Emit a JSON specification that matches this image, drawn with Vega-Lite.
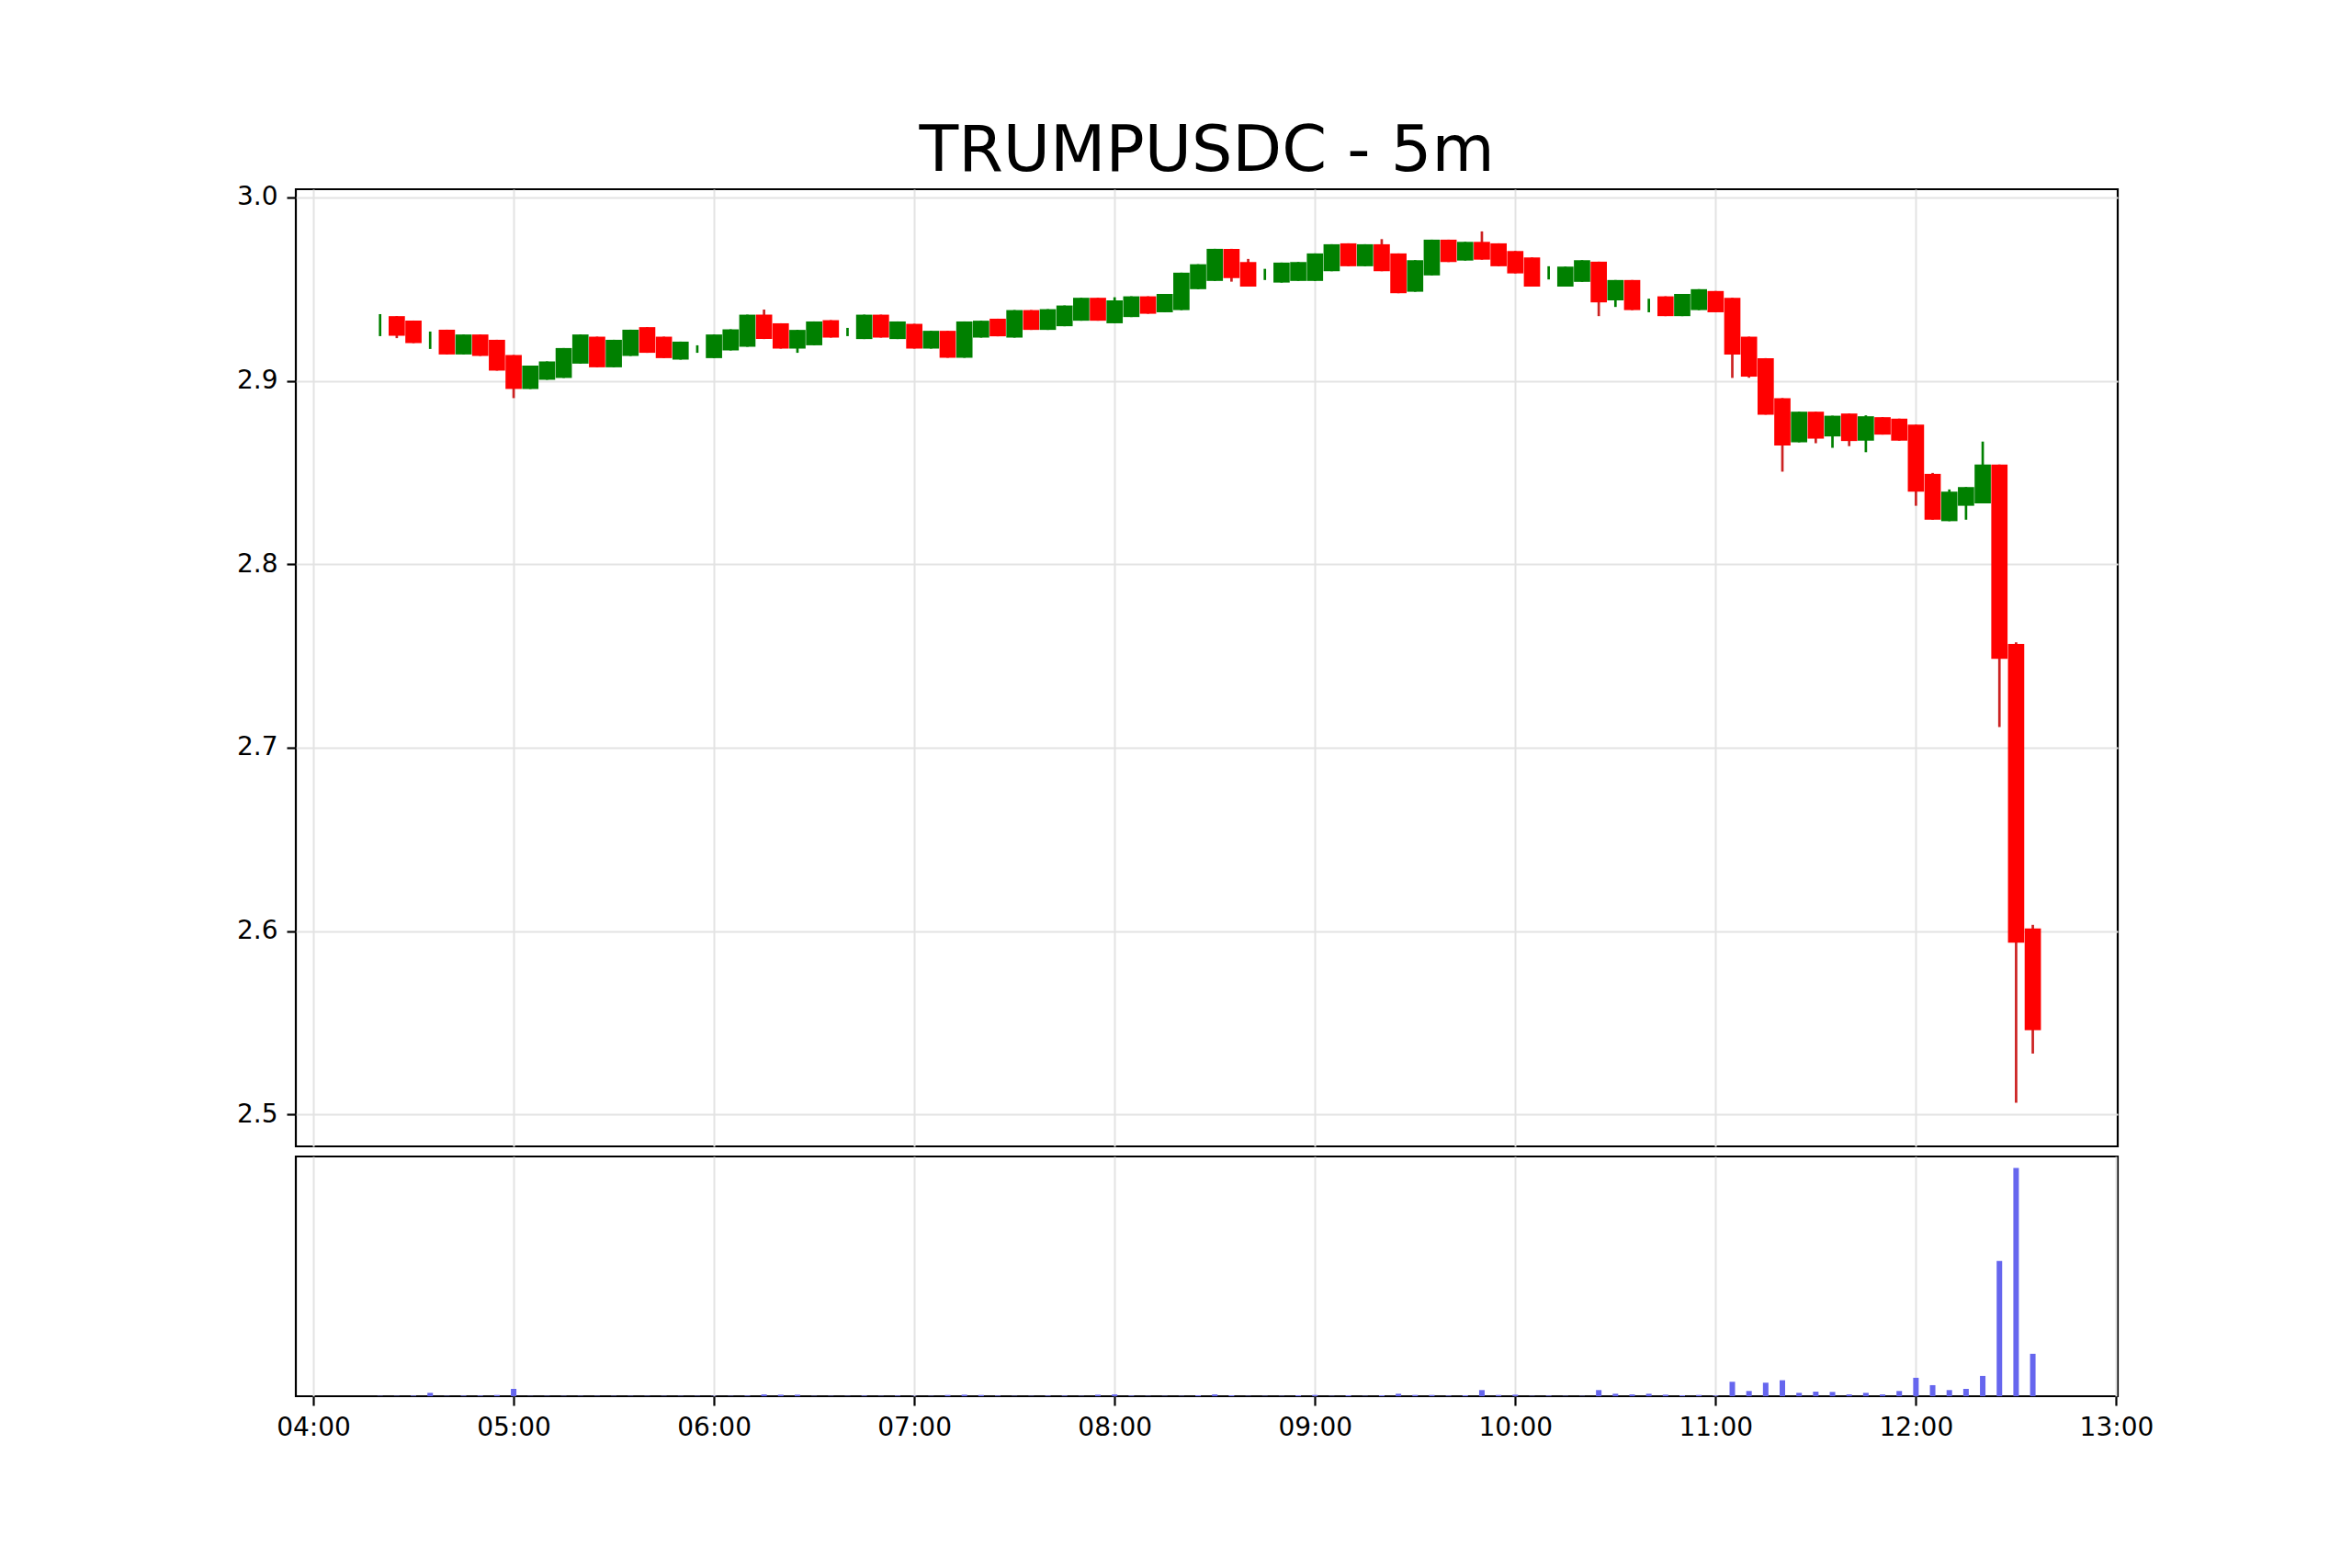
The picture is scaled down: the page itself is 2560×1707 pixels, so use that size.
{
  "$schema": "https://vega.github.io/schema/vega-lite/v6.json",
  "padding": {"left": 256, "top": 128, "right": 40, "bottom": 40},
  "background": "white",
  "spacing": 7,
  "datasets": {
    "candles": [
      {"t": "2025-01-20T04:20:00", "o": 2.93, "h": 2.9364, "l": 2.9244, "c": 2.93, "v": 1},
      {"t": "2025-01-20T04:25:00", "o": 2.9353, "h": 2.9353, "l": 2.9233, "c": 2.9246, "v": 1},
      {"t": "2025-01-20T04:30:00", "o": 2.9329, "h": 2.9329, "l": 2.9206, "c": 2.9206, "v": 2},
      {"t": "2025-01-20T04:35:00", "o": 2.922, "h": 2.9269, "l": 2.9174, "c": 2.922, "v": 11},
      {"t": "2025-01-20T04:40:00", "o": 2.9279, "h": 2.9279, "l": 2.9144, "c": 2.9144, "v": 1},
      {"t": "2025-01-20T04:45:00", "o": 2.9144, "h": 2.9253, "l": 2.9144, "c": 2.9253, "v": 2},
      {"t": "2025-01-20T04:50:00", "o": 2.9253, "h": 2.9253, "l": 2.9136, "c": 2.9136, "v": 2},
      {"t": "2025-01-20T04:55:00", "o": 2.9224, "h": 2.9224, "l": 2.9056, "c": 2.9056, "v": 4},
      {"t": "2025-01-20T05:00:00", "o": 2.9141, "h": 2.9141, "l": 2.8906, "c": 2.8956, "v": 24},
      {"t": "2025-01-20T05:05:00", "o": 2.8956, "h": 2.9083, "l": 2.8956, "c": 2.9083, "v": 1},
      {"t": "2025-01-20T05:10:00", "o": 2.9006, "h": 2.9106, "l": 2.9006, "c": 2.9106, "v": 1},
      {"t": "2025-01-20T05:15:00", "o": 2.9016, "h": 2.9179, "l": 2.9016, "c": 2.9179, "v": 1},
      {"t": "2025-01-20T05:20:00", "o": 2.9094, "h": 2.9253, "l": 2.9094, "c": 2.9253, "v": 1},
      {"t": "2025-01-20T05:25:00", "o": 2.9241, "h": 2.9241, "l": 2.9074, "c": 2.9074, "v": 1},
      {"t": "2025-01-20T05:30:00", "o": 2.9074, "h": 2.9224, "l": 2.9074, "c": 2.9224, "v": 1},
      {"t": "2025-01-20T05:35:00", "o": 2.9136, "h": 2.9279, "l": 2.9136, "c": 2.9279, "v": 1},
      {"t": "2025-01-20T05:40:00", "o": 2.9293, "h": 2.9293, "l": 2.9153, "c": 2.9153, "v": 1},
      {"t": "2025-01-20T05:45:00", "o": 2.9241, "h": 2.9241, "l": 2.9124, "c": 2.9124, "v": 1},
      {"t": "2025-01-20T05:50:00", "o": 2.9116, "h": 2.9214, "l": 2.9116, "c": 2.9214, "v": 1},
      {"t": "2025-01-20T05:55:00", "o": 2.9174, "h": 2.9194, "l": 2.9153, "c": 2.9174, "v": 1},
      {"t": "2025-01-20T06:00:00", "o": 2.9124, "h": 2.9253, "l": 2.9124, "c": 2.9253, "v": 1},
      {"t": "2025-01-20T06:05:00", "o": 2.9166, "h": 2.9281, "l": 2.9166, "c": 2.9281, "v": 1},
      {"t": "2025-01-20T06:10:00", "o": 2.9186, "h": 2.9361, "l": 2.9186, "c": 2.9361, "v": 2},
      {"t": "2025-01-20T06:15:00", "o": 2.9361, "h": 2.9389, "l": 2.9228, "c": 2.9228, "v": 6},
      {"t": "2025-01-20T06:20:00", "o": 2.9314, "h": 2.9314, "l": 2.9176, "c": 2.9176, "v": 5},
      {"t": "2025-01-20T06:25:00", "o": 2.9176, "h": 2.9278, "l": 2.9153, "c": 2.9278, "v": 5},
      {"t": "2025-01-20T06:30:00", "o": 2.9194, "h": 2.9324, "l": 2.9194, "c": 2.9324, "v": 1},
      {"t": "2025-01-20T06:35:00", "o": 2.9331, "h": 2.9331, "l": 2.9236, "c": 2.9236, "v": 1},
      {"t": "2025-01-20T06:40:00", "o": 2.9266, "h": 2.9289, "l": 2.9244, "c": 2.9266, "v": 1},
      {"t": "2025-01-20T06:45:00", "o": 2.9228, "h": 2.9361, "l": 2.9228, "c": 2.9361, "v": 2},
      {"t": "2025-01-20T06:50:00", "o": 2.9361, "h": 2.9361, "l": 2.9236, "c": 2.9236, "v": 1},
      {"t": "2025-01-20T06:55:00", "o": 2.9228, "h": 2.9324, "l": 2.9228, "c": 2.9324, "v": 2},
      {"t": "2025-01-20T07:00:00", "o": 2.9311, "h": 2.9311, "l": 2.9176, "c": 2.9176, "v": 1},
      {"t": "2025-01-20T07:05:00", "o": 2.9176, "h": 2.9273, "l": 2.9176, "c": 2.9273, "v": 1},
      {"t": "2025-01-20T07:10:00", "o": 2.9273, "h": 2.9273, "l": 2.9126, "c": 2.9126, "v": 4},
      {"t": "2025-01-20T07:15:00", "o": 2.9126, "h": 2.9324, "l": 2.9126, "c": 2.9324, "v": 5},
      {"t": "2025-01-20T07:20:00", "o": 2.9236, "h": 2.9328, "l": 2.9236, "c": 2.9328, "v": 4},
      {"t": "2025-01-20T07:25:00", "o": 2.9339, "h": 2.9339, "l": 2.9243, "c": 2.9243, "v": 2},
      {"t": "2025-01-20T07:30:00", "o": 2.9236, "h": 2.9386, "l": 2.9236, "c": 2.9386, "v": 1},
      {"t": "2025-01-20T07:35:00", "o": 2.9386, "h": 2.9386, "l": 2.9278, "c": 2.9278, "v": 1},
      {"t": "2025-01-20T07:40:00", "o": 2.9278, "h": 2.9391, "l": 2.9278, "c": 2.9391, "v": 2},
      {"t": "2025-01-20T07:45:00", "o": 2.9298, "h": 2.9411, "l": 2.9298, "c": 2.9411, "v": 2},
      {"t": "2025-01-20T07:50:00", "o": 2.9328, "h": 2.9453, "l": 2.9328, "c": 2.9453, "v": 1},
      {"t": "2025-01-20T07:55:00", "o": 2.9453, "h": 2.9453, "l": 2.9328, "c": 2.9328, "v": 5},
      {"t": "2025-01-20T08:00:00", "o": 2.9314, "h": 2.9456, "l": 2.9314, "c": 2.9439, "v": 6},
      {"t": "2025-01-20T08:05:00", "o": 2.9348, "h": 2.9461, "l": 2.9348, "c": 2.9461, "v": 2},
      {"t": "2025-01-20T08:10:00", "o": 2.9461, "h": 2.9461, "l": 2.9366, "c": 2.9366, "v": 1},
      {"t": "2025-01-20T08:15:00", "o": 2.9374, "h": 2.9474, "l": 2.9374, "c": 2.9474, "v": 1},
      {"t": "2025-01-20T08:20:00", "o": 2.9386, "h": 2.959, "l": 2.9386, "c": 2.959, "v": 1},
      {"t": "2025-01-20T08:25:00", "o": 2.95, "h": 2.9636, "l": 2.95, "c": 2.9636, "v": 3},
      {"t": "2025-01-20T08:30:00", "o": 2.9545, "h": 2.972, "l": 2.9545, "c": 2.972, "v": 6},
      {"t": "2025-01-20T08:35:00", "o": 2.972, "h": 2.972, "l": 2.9541, "c": 2.9561, "v": 3},
      {"t": "2025-01-20T08:40:00", "o": 2.9648, "h": 2.9665, "l": 2.9514, "c": 2.9514, "v": 1},
      {"t": "2025-01-20T08:45:00", "o": 2.958, "h": 2.9611, "l": 2.955, "c": 2.958, "v": 1},
      {"t": "2025-01-20T08:50:00", "o": 2.9536, "h": 2.9645, "l": 2.9536, "c": 2.9645, "v": 1},
      {"t": "2025-01-20T08:55:00", "o": 2.9545, "h": 2.9648, "l": 2.9545, "c": 2.9648, "v": 3},
      {"t": "2025-01-20T09:00:00", "o": 2.9545, "h": 2.9695, "l": 2.9545, "c": 2.9695, "v": 4},
      {"t": "2025-01-20T09:05:00", "o": 2.9598, "h": 2.9745, "l": 2.9598, "c": 2.9745, "v": 1},
      {"t": "2025-01-20T09:10:00", "o": 2.975, "h": 2.975, "l": 2.9625, "c": 2.9625, "v": 3},
      {"t": "2025-01-20T09:15:00", "o": 2.9625, "h": 2.9745, "l": 2.9625, "c": 2.9745, "v": 1},
      {"t": "2025-01-20T09:20:00", "o": 2.9745, "h": 2.9773, "l": 2.9598, "c": 2.9598, "v": 3},
      {"t": "2025-01-20T09:25:00", "o": 2.9695, "h": 2.9695, "l": 2.9478, "c": 2.9478, "v": 8},
      {"t": "2025-01-20T09:30:00", "o": 2.9486, "h": 2.9658, "l": 2.9486, "c": 2.9658, "v": 4},
      {"t": "2025-01-20T09:35:00", "o": 2.9575, "h": 2.977, "l": 2.9575, "c": 2.977, "v": 4},
      {"t": "2025-01-20T09:40:00", "o": 2.977, "h": 2.977, "l": 2.9648, "c": 2.9648, "v": 2},
      {"t": "2025-01-20T09:45:00", "o": 2.9656, "h": 2.9758, "l": 2.9656, "c": 2.9758, "v": 3},
      {"t": "2025-01-20T09:50:00", "o": 2.9758, "h": 2.9815, "l": 2.9661, "c": 2.9661, "v": 20},
      {"t": "2025-01-20T09:55:00", "o": 2.975, "h": 2.975, "l": 2.9625, "c": 2.9625, "v": 4},
      {"t": "2025-01-20T10:00:00", "o": 2.9708, "h": 2.9708, "l": 2.9586, "c": 2.9586, "v": 5},
      {"t": "2025-01-20T10:05:00", "o": 2.9673, "h": 2.9673, "l": 2.9514, "c": 2.9514, "v": 1},
      {"t": "2025-01-20T10:10:00", "o": 2.959, "h": 2.9625, "l": 2.9553, "c": 2.959, "v": 2},
      {"t": "2025-01-20T10:15:00", "o": 2.9514, "h": 2.9623, "l": 2.9514, "c": 2.9623, "v": 1},
      {"t": "2025-01-20T10:20:00", "o": 2.954, "h": 2.9658, "l": 2.954, "c": 2.9658, "v": 1},
      {"t": "2025-01-20T10:25:00", "o": 2.965, "h": 2.965, "l": 2.9353, "c": 2.9428, "v": 20},
      {"t": "2025-01-20T10:30:00", "o": 2.9439, "h": 2.955, "l": 2.9403, "c": 2.955, "v": 8},
      {"t": "2025-01-20T10:35:00", "o": 2.955, "h": 2.955, "l": 2.9386, "c": 2.9386, "v": 6},
      {"t": "2025-01-20T10:40:00", "o": 2.941, "h": 2.9448, "l": 2.9374, "c": 2.941, "v": 8},
      {"t": "2025-01-20T10:45:00", "o": 2.9461, "h": 2.9461, "l": 2.9353, "c": 2.9353, "v": 5},
      {"t": "2025-01-20T10:50:00", "o": 2.9353, "h": 2.9474, "l": 2.9353, "c": 2.9474, "v": 3},
      {"t": "2025-01-20T10:55:00", "o": 2.9386, "h": 2.95, "l": 2.9386, "c": 2.95, "v": 4},
      {"t": "2025-01-20T11:00:00", "o": 2.949, "h": 2.949, "l": 2.9374, "c": 2.9374, "v": 2},
      {"t": "2025-01-20T11:05:00", "o": 2.9453, "h": 2.9453, "l": 2.9016, "c": 2.9144, "v": 47},
      {"t": "2025-01-20T11:10:00", "o": 2.9241, "h": 2.9241, "l": 2.9017, "c": 2.9023, "v": 17},
      {"t": "2025-01-20T11:15:00", "o": 2.9124, "h": 2.9124, "l": 2.8816, "c": 2.8816, "v": 44},
      {"t": "2025-01-20T11:20:00", "o": 2.8906, "h": 2.8906, "l": 2.8505, "c": 2.8647, "v": 52},
      {"t": "2025-01-20T11:25:00", "o": 2.8665, "h": 2.8832, "l": 2.8665, "c": 2.8832, "v": 11},
      {"t": "2025-01-20T11:30:00", "o": 2.8832, "h": 2.8832, "l": 2.866, "c": 2.8685, "v": 15},
      {"t": "2025-01-20T11:35:00", "o": 2.8697, "h": 2.881, "l": 2.8635, "c": 2.881, "v": 14},
      {"t": "2025-01-20T11:40:00", "o": 2.8822, "h": 2.8822, "l": 2.8644, "c": 2.8672, "v": 6},
      {"t": "2025-01-20T11:45:00", "o": 2.8674, "h": 2.8812, "l": 2.8611, "c": 2.8807, "v": 11},
      {"t": "2025-01-20T11:50:00", "o": 2.8802, "h": 2.8802, "l": 2.8707, "c": 2.8707, "v": 6},
      {"t": "2025-01-20T11:55:00", "o": 2.8794, "h": 2.8794, "l": 2.8674, "c": 2.8674, "v": 17},
      {"t": "2025-01-20T12:00:00", "o": 2.8761, "h": 2.8761, "l": 2.8319, "c": 2.8396, "v": 60},
      {"t": "2025-01-20T12:05:00", "o": 2.8493, "h": 2.8498, "l": 2.8243, "c": 2.8243, "v": 36},
      {"t": "2025-01-20T12:10:00", "o": 2.8235, "h": 2.8408, "l": 2.8235, "c": 2.8396, "v": 20},
      {"t": "2025-01-20T12:15:00", "o": 2.8319, "h": 2.8421, "l": 2.8243, "c": 2.8421, "v": 24},
      {"t": "2025-01-20T12:20:00", "o": 2.8332, "h": 2.8669, "l": 2.8332, "c": 2.8544, "v": 66},
      {"t": "2025-01-20T12:25:00", "o": 2.8544, "h": 2.8544, "l": 2.7112, "c": 2.7484, "v": 440},
      {"t": "2025-01-20T12:30:00", "o": 2.7566, "h": 2.7574, "l": 2.5064, "c": 2.5937, "v": 743},
      {"t": "2025-01-20T12:35:00", "o": 2.6014, "h": 2.6034, "l": 2.5332, "c": 2.546, "v": 138}
    ]
  },
  "vconcat": [
    {
      "width": 1983,
      "height": 1042,
      "title": {"text": "TRUMPUSDC - 5m", "fontSize": 70, "font": "DejaVu Sans", "fontWeight": "normal", "color": "black", "anchor": "middle", "frame": "group", "offset": 0},
      "data": {"name": "candles"},
      "encoding": {
        "x": {
          "field": "t",
          "type": "temporal",
          "scale": {"nice": false, "padding": 0, "domain": [
            {"year": 2025, "month": 1, "date": 20, "hours": 3, "minutes": 54, "seconds": 46},
            {"year": 2025, "month": 1, "date": 20, "hours": 13, "minutes": 0, "seconds": 26}
          ]},
          "axis": {
            "title": null, "labels": false, "ticks": false, "domain": false, "grid": true,
            "values": [
              {"year": 2025, "month": 1, "date": 20, "hours": 4},
              {"year": 2025, "month": 1, "date": 20, "hours": 5},
              {"year": 2025, "month": 1, "date": 20, "hours": 6},
              {"year": 2025, "month": 1, "date": 20, "hours": 7},
              {"year": 2025, "month": 1, "date": 20, "hours": 8},
              {"year": 2025, "month": 1, "date": 20, "hours": 9},
              {"year": 2025, "month": 1, "date": 20, "hours": 10},
              {"year": 2025, "month": 1, "date": 20, "hours": 11},
              {"year": 2025, "month": 1, "date": 20, "hours": 12}
            ]
          }
        }
      },
      "layer": [
        {
          "mark": {"type": "rule", "strokeWidth": 2.7},
          "encoding": {
            "y": {
              "field": "l", "type": "quantitative",
              "scale": {"domain": [2.4826, 3.0045], "nice": false, "zero": false, "padding": 0},
              "axis": {"title": null, "values": [2.5, 2.6, 2.7, 2.8, 2.9, 3.0], "format": ".1f", "grid": true, "domain": false}
            },
            "y2": {"field": "h"},
            "color": {"condition": {"test": "datum.c >= datum.o", "value": "#008000"}, "value": "#cc2222"}
          }
        },
        {
          "mark": {"type": "bar", "size": 17.7},
          "encoding": {
            "y": {"field": "o", "type": "quantitative", "title": null},
            "y2": {"field": "c"},
            "color": {"condition": {"test": "datum.c >= datum.o", "value": "#008000"}, "value": "#ff0000"}
          }
        }
      ]
    },
    {
      "width": 1983,
      "height": 261,
      "data": {"name": "candles"},
      "mark": {"type": "bar", "size": 6, "color": "#6666ee"},
      "encoding": {
        "x": {
          "field": "t",
          "type": "temporal",
          "scale": {"nice": false, "padding": 0, "domain": [
            {"year": 2025, "month": 1, "date": 20, "hours": 3, "minutes": 54, "seconds": 46},
            {"year": 2025, "month": 1, "date": 20, "hours": 13, "minutes": 0, "seconds": 26}
          ]},
          "axis": {
            "title": null, "format": "%H:%M", "grid": true, "domain": false, "labelFlush": false, "labelOverlap": false,
            "values": [
              {"year": 2025, "month": 1, "date": 20, "hours": 4},
              {"year": 2025, "month": 1, "date": 20, "hours": 5},
              {"year": 2025, "month": 1, "date": 20, "hours": 6},
              {"year": 2025, "month": 1, "date": 20, "hours": 7},
              {"year": 2025, "month": 1, "date": 20, "hours": 8},
              {"year": 2025, "month": 1, "date": 20, "hours": 9},
              {"year": 2025, "month": 1, "date": 20, "hours": 10},
              {"year": 2025, "month": 1, "date": 20, "hours": 11},
              {"year": 2025, "month": 1, "date": 20, "hours": 12},
              {"year": 2025, "month": 1, "date": 20, "hours": 13}
            ]
          }
        },
        "y": {
          "field": "v", "type": "quantitative",
          "scale": {"domain": [0, 780], "nice": false, "padding": 0},
          "axis": null
        }
      }
    }
  ],
  "config": {
    "view": {"stroke": "black", "strokeWidth": 2.2},
    "axis": {
      "labelFont": "DejaVu Sans",
      "labelFontSize": 28,
      "labelColor": "black",
      "tickColor": "black",
      "tickWidth": 2.2,
      "tickSize": 10,
      "labelPadding": 10,
      "gridColor": "#e3e3e3",
      "gridWidth": 2,
      "gridOpacity": 1
    }
  }
}
